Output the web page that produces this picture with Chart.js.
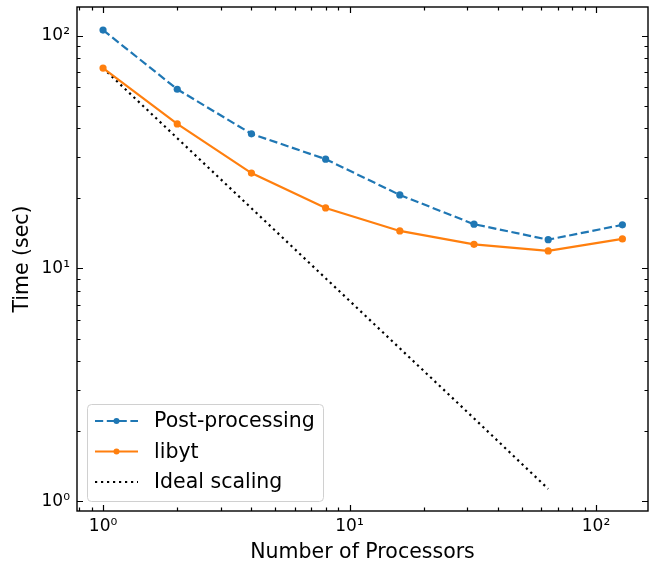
<!DOCTYPE html>
<html>
<head>
<meta charset="utf-8">
<script src="https://cdn.jsdelivr.net/npm/chart.js@4.4.0/dist/chart.umd.min.js"></script>
<style>
  html, body { margin: 0; padding: 0; background: #fff; }
  canvas { display: block; }
</style>
</head>
<body>
<canvas id="chart" width="652" height="563"></canvas>
<script>
/* ---------------- DATA ---------------- */

const processors = [1, 2, 4, 8, 16, 32, 64, 128];
const postProcessing = [105.8, 58.9, 37.9, 29.5, 20.7, 15.5, 13.3, 15.4];
const libyt = [72.6, 41.8, 25.7, 18.2, 14.5, 12.7, 11.9, 13.4];

const idealProcessors = [1, 2, 4, 8, 16, 32, 64];
const idealScaling = [72.6, 36.3, 18.15, 9.08, 4.54, 2.27, 1.13];

const majorTicks = [1, 10, 100];
const majorLabels = ["10⁰", "10¹", "10²"];

const FONT = "'DejaVu Sans', sans-serif";

const pairs = (xs, ys) => xs.map((x, i) => ({ x, y: ys[i] }));

/* ---------------- PLUGINS ---------------- */

// inward ticks on all four sides + frame
const frameTicks = {
  id: "frameTicks",
  afterDatasetsDraw(chart) {
    const { ctx, chartArea: a, scales: { x, y } } = chart;
    ctx.save();
    ctx.strokeStyle = "#000";
    ctx.lineWidth = 1.2;

    for (let e = -1; e <= 3; e++) {
      for (let k = 1; k <= 9; k++) {
        const v = k * Math.pow(10, e);
        const len = k === 1 ? 6 : 3.5;
        if (v >= x.min && v <= x.max) {
          const px = Math.round(x.getPixelForValue(v)) + 0.5;
          ctx.beginPath();
          ctx.moveTo(px, a.bottom); ctx.lineTo(px, a.bottom - len);
          ctx.moveTo(px, a.top); ctx.lineTo(px, a.top + len);
          ctx.stroke();
        }
        if (v >= y.min && v <= y.max) {
          const py = Math.round(y.getPixelForValue(v)) + 0.5;
          ctx.beginPath();
          ctx.moveTo(a.left, py); ctx.lineTo(a.left + len, py);
          ctx.moveTo(a.right, py); ctx.lineTo(a.right - len, py);
          ctx.stroke();
        }
      }
    }
    ctx.lineWidth = 1.4;
    ctx.strokeRect(a.left, a.top, a.right - a.left, a.bottom - a.top);
    ctx.restore();
  }
};

// matplotlib style legend box in lower left
const boxLegend = {
  id: "boxLegend",
  afterDraw(chart) {
    const { ctx } = chart;
    const bx = 87, by = 404, bw = 236, bh = 97;
    ctx.save();
    ctx.fillStyle = "rgba(255,255,255,0.8)";
    ctx.strokeStyle = "#d0d0d0";
    ctx.lineWidth = 1;
    ctx.beginPath();
    ctx.roundRect(bx + 0.5, by + 0.5, bw, bh, 4);
    ctx.fill();
    ctx.stroke();

    ctx.font = "20.5px " + FONT;
    ctx.textBaseline = "middle";
    chart.data.datasets.forEach((ds, i) => {
      const ly = by + 17 + i * 30.5;
      ctx.strokeStyle = ds.borderColor;
      ctx.lineWidth = ds.borderWidth;
      ctx.setLineDash(ds.borderDash || []);
      ctx.beginPath();
      ctx.moveTo(95, ly); ctx.lineTo(138, ly);
      ctx.stroke();
      ctx.setLineDash([]);
      if (ds.pointRadius > 0) {
        ctx.fillStyle = ds.pointBackgroundColor;
        ctx.beginPath();
        ctx.arc(116.5, ly, 3, 0, Math.PI * 2);
        ctx.fill();
      }
      ctx.fillStyle = "#000";
      ctx.fillText(ds.label, 154, ly + 1);
    });
    ctx.restore();
  }
};

/* ---------------- CHART ---------------- */

new Chart(document.getElementById("chart"), {
  type: "scatter",
  data: {
    datasets: [
      {
        label: "Post-processing",
        data: pairs(processors, postProcessing),
        showLine: true,
        borderColor: "#1f77b4",
        backgroundColor: "#1f77b4",
        pointBackgroundColor: "#1f77b4",
        pointBorderWidth: 0,
        borderWidth: 2.2,
        borderDash: [8.2, 3.6],
        pointRadius: 3.6
      },
      {
        label: "libyt",
        data: pairs(processors, libyt),
        showLine: true,
        borderColor: "#ff7f0e",
        backgroundColor: "#ff7f0e",
        pointBackgroundColor: "#ff7f0e",
        pointBorderWidth: 0,
        borderWidth: 2.2,
        pointRadius: 3.6
      },
      {
        label: "Ideal scaling",
        data: pairs(idealProcessors, idealScaling),
        showLine: true,
        borderColor: "#000",
        backgroundColor: "#000",
        borderWidth: 2.2,
        borderDash: [2.2, 3.8],
        pointRadius: 0
      }
    ]
  },
  options: {
    responsive: false,
    animation: false,
    layout: { padding: { top: 7, right: 4, left: 0, bottom: 0 } },
    plugins: { legend: { display: false }, tooltip: { enabled: false } },
    scales: {
      x: {
        type: "logarithmic",
        min: 0.784,
        max: 162.6,
        afterFit: s => { s.height = 52; s.paddingLeft = 0; s.paddingRight = 0; },
        afterBuildTicks: s => { s.ticks = majorTicks.map(v => ({ value: v, major: true })); },
        grid: { display: false, drawTicks: false },
        border: { display: false },
        ticks: {
          autoSkip: false,
          maxRotation: 0,
          padding: 5,
          color: "#000",
          font: { family: FONT, size: 17 },
          callback: v => majorLabels[majorTicks.indexOf(v)] ?? ""
        },
        title: {
          display: true,
          text: "Number of Processors",
          color: "#000",
          font: { family: FONT, size: 20.5, lineHeight: 1 },
          padding: { top: 0, bottom: 0.5 }
        }
      },
      y: {
        type: "logarithmic",
        min: 0.908,
        max: 132.9,
        afterFit: s => { s.width = 77; s.paddingTop = 0; s.paddingBottom = 0; },
        afterBuildTicks: s => { s.ticks = majorTicks.map(v => ({ value: v, major: true })); },
        grid: { display: false, drawTicks: false },
        border: { display: false },
        ticks: {
          autoSkip: false,
          padding: 7,
          color: "#000",
          font: { family: FONT, size: 17 },
          callback: v => majorLabels[majorTicks.indexOf(v)] ?? ""
        },
        title: {
          display: true,
          text: "Time (sec)",
          color: "#000",
          font: { family: FONT, size: 20.5, lineHeight: 1 },
          padding: { top: 12, bottom: 0 }
        }
      }
    }
  },
  plugins: [frameTicks, boxLegend]
});
</script>
</body>
</html>
